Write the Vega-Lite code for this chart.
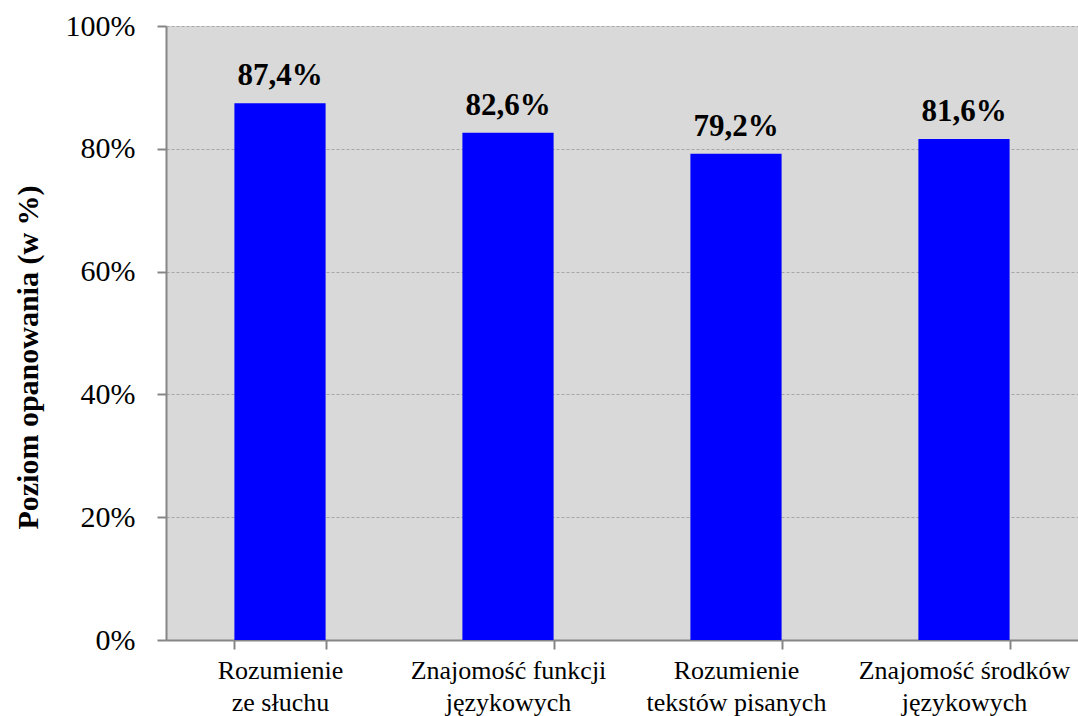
{
  "$schema": "https://vega.github.io/schema/vega-lite/v6.json",
  "width": 912,
  "height": 614,
  "autosize": {"type": "none"},
  "padding": {"left": 166, "top": 26, "right": 0, "bottom": 76},
  "background": "#FFFFFF",
  "config": {
    "locale": {"number": {"decimal": ",", "thousands": " ", "grouping": [3], "currency": ["", " zł"]}},
    "view": {"fill": "#D9D9D9", "stroke": null},
    "font": "'Liberation Serif', 'Times New Roman', serif"
  },
  "data": {
    "values": [
      {"obszar": "Rozumienie\nze słuchu", "poziom": 0.874},
      {"obszar": "Znajomość funkcji\njęzykowych", "poziom": 0.826},
      {"obszar": "Rozumienie\ntekstów pisanych", "poziom": 0.792},
      {"obszar": "Znajomość środków\njęzykowych", "poziom": 0.816}
    ]
  },
  "encoding": {
    "x": {
      "field": "obszar",
      "type": "nominal",
      "sort": null,
      "scale": {"paddingInner": 0.6, "paddingOuter": 0.3},
      "axis": {
        "title": null,
        "labelAngle": 0,
        "labelExpr": "split(datum.label, '\\n')",
        "labelFont": "'Liberation Serif', 'Times New Roman', serif",
        "labelFontSize": 26,
        "labelColor": "#000000",
        "labelLineHeight": 32,
        "labelPadding": 8,
        "labelLimit": 300,
        "tickBand": "extent",
        "tickSize": 9,
        "tickColor": "#868686",
        "tickWidth": 2,
        "domainColor": "#868686",
        "domainWidth": 2,
        "grid": false
      }
    },
    "y": {
      "field": "poziom",
      "type": "quantitative",
      "scale": {"domain": [0, 1], "nice": false},
      "axis": {
        "title": "Poziom opanowania (w %)",
        "titleFont": "'Liberation Serif', 'Times New Roman', serif",
        "titleFontSize": 30,
        "titleFontWeight": "bold",
        "titleColor": "#000000",
        "titlePadding": 22,
        "titleY": 331,
        "values": [0, 0.2, 0.4, 0.6, 0.8, 1],
        "format": ".0%",
        "labelFont": "'Liberation Serif', 'Times New Roman', serif",
        "labelFontSize": 30,
        "labelColor": "#000000",
        "labelPadding": 22,
        "tickSize": 9,
        "tickColor": "#868686",
        "tickWidth": 2,
        "domainColor": "#868686",
        "domainWidth": 2,
        "grid": true,
        "gridColor": "#A6A6A6",
        "gridDash": [3, 2],
        "gridWidth": 1
      }
    }
  },
  "layer": [
    {"mark": {"type": "bar", "color": "#0000FF"}},
    {
      "mark": {"type": "text", "baseline": "alphabetic", "dy": -18, "font": "'Liberation Serif', 'Times New Roman', serif", "fontSize": 31, "fontWeight": "bold", "color": "#000000"},
      "encoding": {"text": {"field": "poziom", "type": "quantitative", "format": ".1%"}}
    }
  ]
}
